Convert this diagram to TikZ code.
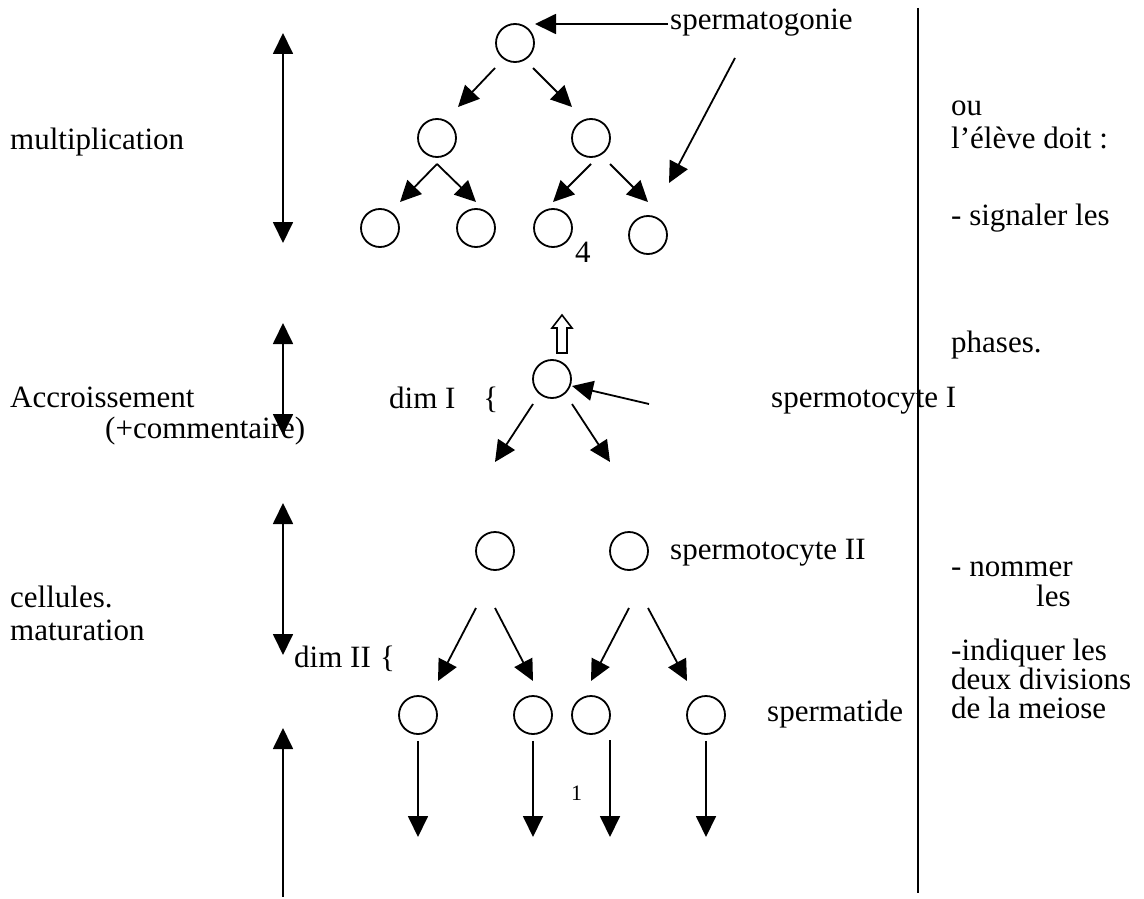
\documentclass[tikz,border=0pt]{standalone}
\usepackage{fontspec}
\setmainfont{Liberation Serif}
\usetikzlibrary{arrows.meta}
\begin{document}
\begin{tikzpicture}[x=1pt,y=-1pt,
  cell/.style={circle,draw,line width=1.8pt,minimum size=38pt,inner sep=0pt},
  arr/.style={line width=1.8pt,-{Triangle[length=21pt,width=20pt]}},
  darr/.style={line width=1.8pt,{Triangle[length=21pt,width=20pt]}-{Triangle[length=21pt,width=20pt]}},
  uarr/.style={line width=1.8pt,{Triangle[length=21pt,width=20pt]}-},
  txt/.style={anchor=base west,inner sep=0pt,font=\fontsize{31}{36}\selectfont},
  small/.style={anchor=base west,inner sep=0pt,font=\fontsize{22}{26}\selectfont}]
\useasboundingbox (0,0) rectangle (1144,899);
% separator
\draw[line width=1.8pt] (918,8) -- (918,893);
% phase arrows
\draw[darr] (283,33) -- (283,243);
\draw[darr] (283,323) -- (283,435);
\draw[darr] (283,503) -- (283,655);
\draw[uarr] (283,728) -- (283,897);
% left labels
\node[txt] (lmul) at (10,149) {multiplication};
\node[txt] (lacc) at (10,407) {Accroissement};
\node[txt] (lcom) at (105,438) {(+commentaire)};
\node[txt] (lcel) at (10,607) {cellules.};
\node[txt] (lmat) at (10,640) {maturation};
% multiplication tree
\node[cell] (t0) at (515,43) {};
\node[cell] (t1) at (437,138) {};
\node[cell] (t2) at (591,138) {};
\node[cell] (t3) at (380,228) {};
\node[cell] (t4) at (476,228) {};
\node[cell] (t5) at (553,228) {};
\node[cell] (t6) at (648,235) {};
\node[txt] (n4) at (575,262) {4};
\draw[arr] (495,68) -- (458,107);
\draw[arr] (533,68) -- (572,107);
\draw[arr] (437,164) -- (400,202);
\draw[arr] (437,164) -- (476,202);
\draw[arr] (591,164) -- (553,202);
\draw[arr] (610,164) -- (648,202);
\node[txt] (sg) at (670,30) {spermatogonie};
\coordinate (sga) at (668,24);
\draw[arr] (sga) -- (535,24);
\coordinate (sgb) at (735,58);
\draw[arr] (sgb) -- (669,183);
% growth
\draw[line width=1.6pt] (557,353) -- (557,328) -- (552,328) -- (562,315) -- (572,328) -- (567,328) -- (567,353) -- cycle;
\node[cell] (s1) at (552,379) {};
\node[txt] (dim1) at (389,408) {dim I\hspace{0.9em}\{};
\coordinate (s1in) at (649,404);
\draw[arr] (s1in) -- (572,386);
\node[txt] (sp1) at (771,407) {spermotocyte I};
\draw[arr] (533,404) -- (495,462);
\draw[arr] (572,404) -- (610,462);
% maturation
\node[cell] (m1) at (495,551) {};
\node[cell] (m2) at (629,551) {};
\node[txt] (sp2) at (670,559) {spermotocyte II};
\draw[arr] (476,608) -- (438,681);
\draw[arr] (495,608) -- (533,681);
\draw[arr] (629,608) -- (591,681);
\draw[arr] (648,608) -- (687,681);
\node[txt] (dim2) at (294,667) {dim II\hspace{0.3em}\{};
\node[cell] (b1) at (418,715) {};
\node[cell] (b2) at (533,715) {};
\node[cell] (b3) at (591,715) {};
\node[cell] (b4) at (706,715) {};
\node[txt] (spt) at (767,721) {spermatide};
\coordinate (e1) at (418,837);
\coordinate (e2) at (533,837);
\coordinate (e3) at (610,837);
\coordinate (e4) at (706,837);
\draw[arr] (b1.south) ++(0,6) -- (e1);
\draw[arr] (b2.south) ++(0,6) -- (e2);
\draw[arr] (610,740) -- (e3);
\draw[arr] (b4.south) ++(0,6) -- (e4);
\node[small] (n1) at (571,800) {1};
% right column
\node[txt] (r1) at (951,115) {ou};
\node[txt] (r2) at (951,148) {l'élève doit :};
\node[txt] (r3) at (951,225) {- signaler les};
\node[txt] (r4) at (951,352) {phases.};
\node[txt] (r5) at (951,576) {- nommer};
\node[txt] (r6) at (1036,606) {les};
\node[txt] (r7) at (951,660) {-indiquer les};
\node[txt] (r8) at (951,689) {deux divisions};
\node[txt] (r9) at (951,718) {de la meiose};
\end{tikzpicture}
\end{document}
